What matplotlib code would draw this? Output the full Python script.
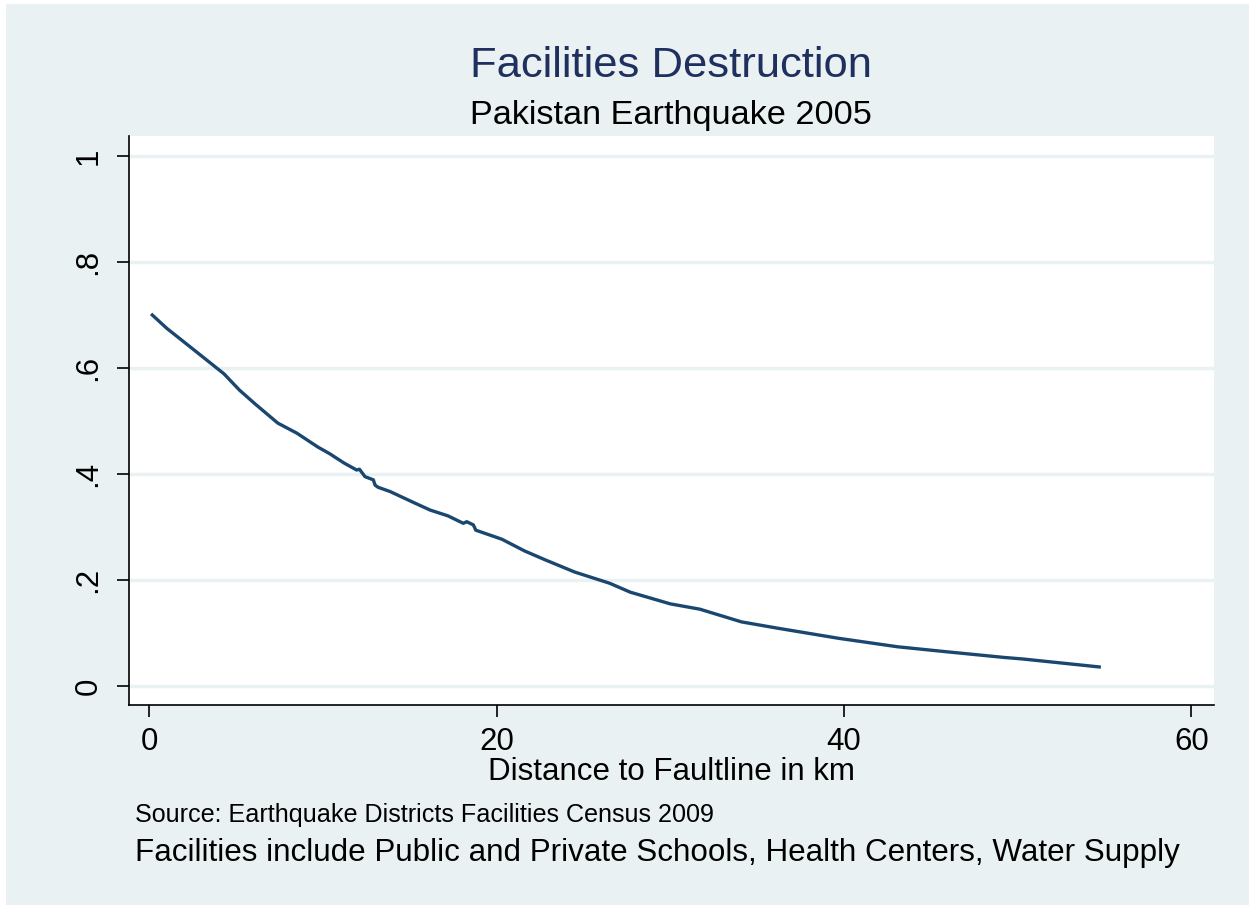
from matplotlib import pyplot as plt
from matplotlib.patches import Rectangle

# values
distance = [0.17, 1.0, 2.5, 4.3, 5.2, 6.1, 7.4, 8.5, 9.7, 10.4, 11.2, 11.94, 12.1, 12.42,
            12.9, 13.0, 13.17, 13.86, 15.3, 16.17, 17.2, 18.08, 18.28, 18.66, 18.8,
            20.3, 21.6, 22.8, 24.5, 26.5, 27.7, 30.0, 31.7, 34.1, 36.2, 39.7, 43.1,
            45.8, 49.2, 50.3, 54.7]
destruction = [0.700, 0.675, 0.636, 0.589, 0.558, 0.532, 0.496, 0.477, 0.451, 0.438,
               0.421, 0.4075, 0.409, 0.395, 0.389, 0.379, 0.375, 0.367, 0.345, 0.332,
               0.321, 0.307, 0.310, 0.304, 0.294, 0.277, 0.255, 0.238, 0.215, 0.194,
               0.177, 0.155, 0.145, 0.121, 0.109, 0.090, 0.074, 0.065, 0.054, 0.051,
               0.036]
xticks = [0, 20, 40, 60]
yticks = [0, 0.2, 0.4, 0.6, 0.8, 1.0]
ytick_labels = ["0", ".2", ".4", ".6", ".8", "1"]

bg = "#eaf1f3"
navy = "#1a476f"

plt.rcParams["font.family"] = ["Liberation Sans", "DejaVu Sans"]

fig = plt.figure(figsize=(12.49, 9.05), dpi=100)
fig.patch.set_facecolor("white")
fig.patches.append(Rectangle((6 / 1249, 0), 1, 1 - 4 / 905, transform=fig.transFigure,
                             facecolor=bg, edgecolor="none", zorder=-10))

ax = fig.add_axes([129 / 1249, 200 / 905, 1085 / 1249, 569 / 905])
ax.set_facecolor("white")
ax.plot(distance, destruction, color=navy, linewidth=2.4, zorder=3)

ax.set_xlim(-1.17, 61.31)
ax.set_ylim(-0.0358, 1.0377)
ax.set_xticks(xticks)
ax.set_yticks(yticks)
ax.set_yticklabels(ytick_labels, rotation=90, va="center")
ax.grid(axis="y", color=bg, linewidth=2.5)
ax.set_axisbelow(True)
for side in ["top", "right"]:
    ax.spines[side].set_visible(False)
ax.spines["left"].set_linewidth(1.2)
ax.spines["bottom"].set_linewidth(1.2)
ax.tick_params(axis="both", length=8.5, width=1.2, labelsize=22.5)
ax.tick_params(axis="y", pad=10)
ax.tick_params(axis="x", pad=7)
ax.set_xlabel("Distance to Faultline in km", fontsize=22.5, labelpad=0)

fig.text(0.537, 1 - 77 / 905, "Facilities Destruction", fontsize=31.3, color="#1f2f5e",
         ha="center", va="baseline")
fig.text(0.537, 1 - 124 / 905, "Pakistan Earthquake 2005", fontsize=24.7,
         ha="center", va="baseline")
fig.text(135 / 1249, 1 - 822 / 905, "Source: Earthquake Districts Facilities Census 2009",
         fontsize=18.1, ha="left", va="baseline")
fig.text(135 / 1249, 1 - 861 / 905,
         "Facilities include Public and Private Schools, Health Centers, Water Supply",
         fontsize=22.6, ha="left", va="baseline")

fig.savefig("out.png", dpi=100, facecolor=fig.get_facecolor())
